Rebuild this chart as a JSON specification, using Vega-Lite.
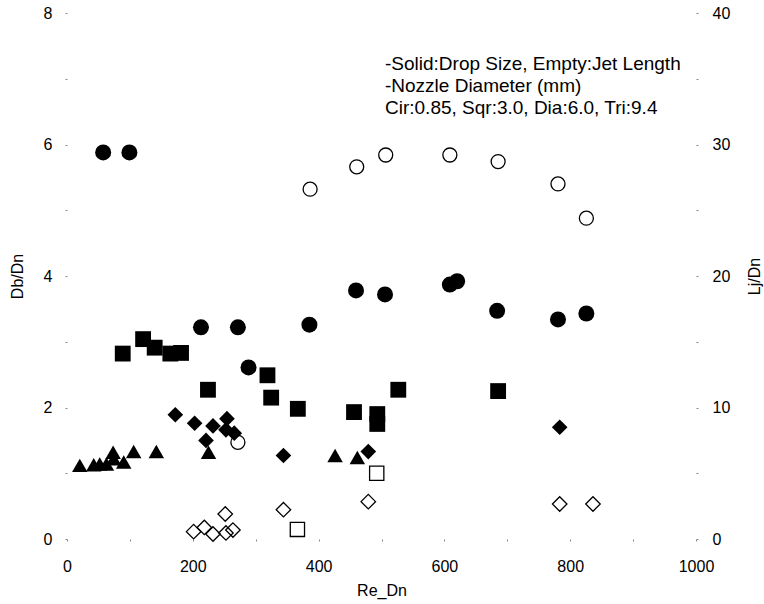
{
  "$schema": "https://vega.github.io/schema/vega-lite/v6.json",
  "width": 629,
  "height": 526,
  "autosize": "none",
  "padding": {"left": 67, "top": 13, "right": 68, "bottom": 65},
  "background": "white",
  "config": {
    "view": {"stroke": null},
    "font": "Liberation Sans",
    "axis": {
      "domain": false,
      "grid": false,
      "tickColor": "#888888",
      "tickSize": 2,
      "tickWidth": 1,
      "labelFont": "Liberation Sans",
      "labelFontSize": 16,
      "labelColor": "black",
      "labelFlush": false,
      "labelOverlap": false,
      "titleFont": "Liberation Sans",
      "titleFontSize": 16,
      "titleFontWeight": "normal",
      "titleColor": "black"
    }
  },
  "title": {
    "text": ["-Solid:Drop Size, Empty:Jet Length", "-Nozzle Diameter (mm)", "Cir:0.85, Sqr:3.0, Dia:6.0, Tri:9.4"],
    "anchor": "start",
    "frame": "group",
    "orient": "top",
    "font": "Liberation Sans",
    "fontSize": 19,
    "fontWeight": "normal",
    "color": "black",
    "lineHeight": 22,
    "offset": 0,
    "baseline": "top",
    "dx": 318,
    "dy": 113
  },
  "data": {
    "values": [
      {"re": 57.5, "val": 5.88, "nozzle": "Cir", "kind": "drop"},
      {"re": 99.2, "val": 5.88, "nozzle": "Cir", "kind": "drop"},
      {"re": 213, "val": 3.22, "nozzle": "Cir", "kind": "drop"},
      {"re": 271.7, "val": 3.22, "nozzle": "Cir", "kind": "drop"},
      {"re": 288.6, "val": 2.61, "nozzle": "Cir", "kind": "drop"},
      {"re": 385.4, "val": 3.26, "nozzle": "Cir", "kind": "drop"},
      {"re": 459.5, "val": 3.78, "nozzle": "Cir", "kind": "drop"},
      {"re": 505.6, "val": 3.72, "nozzle": "Cir", "kind": "drop"},
      {"re": 608.7, "val": 3.87, "nozzle": "Cir", "kind": "drop"},
      {"re": 620.3, "val": 3.92, "nozzle": "Cir", "kind": "drop"},
      {"re": 683.8, "val": 3.47, "nozzle": "Cir", "kind": "drop"},
      {"re": 780.6, "val": 3.34, "nozzle": "Cir", "kind": "drop"},
      {"re": 825.7, "val": 3.43, "nozzle": "Cir", "kind": "drop"},
      {"re": 88.6, "val": 2.82, "nozzle": "Sqr", "kind": "drop"},
      {"re": 121, "val": 3.04, "nozzle": "Sqr", "kind": "drop"},
      {"re": 139.4, "val": 2.91, "nozzle": "Sqr", "kind": "drop"},
      {"re": 164.3, "val": 2.82, "nozzle": "Sqr", "kind": "drop"},
      {"re": 181.3, "val": 2.83, "nozzle": "Sqr", "kind": "drop"},
      {"re": 224.1, "val": 2.27, "nozzle": "Sqr", "kind": "drop"},
      {"re": 318.7, "val": 2.49, "nozzle": "Sqr", "kind": "drop"},
      {"re": 324.6, "val": 2.15, "nozzle": "Sqr", "kind": "drop"},
      {"re": 367, "val": 1.98, "nozzle": "Sqr", "kind": "drop"},
      {"re": 456.3, "val": 1.93, "nozzle": "Sqr", "kind": "drop"},
      {"re": 493.3, "val": 1.9, "nozzle": "Sqr", "kind": "drop"},
      {"re": 493.3, "val": 1.75, "nozzle": "Sqr", "kind": "drop"},
      {"re": 526.7, "val": 2.27, "nozzle": "Sqr", "kind": "drop"},
      {"re": 685.4, "val": 2.25, "nozzle": "Sqr", "kind": "drop"},
      {"re": 172.2, "val": 1.89, "nozzle": "Dia", "kind": "drop"},
      {"re": 202.9, "val": 1.76, "nozzle": "Dia", "kind": "drop"},
      {"re": 232.1, "val": 1.72, "nozzle": "Dia", "kind": "drop"},
      {"re": 254.3, "val": 1.83, "nozzle": "Dia", "kind": "drop"},
      {"re": 252.7, "val": 1.66, "nozzle": "Dia", "kind": "drop"},
      {"re": 265.9, "val": 1.61, "nozzle": "Dia", "kind": "drop"},
      {"re": 221, "val": 1.5, "nozzle": "Dia", "kind": "drop"},
      {"re": 344.1, "val": 1.27, "nozzle": "Dia", "kind": "drop"},
      {"re": 479, "val": 1.33, "nozzle": "Dia", "kind": "drop"},
      {"re": 783.3, "val": 1.7, "nozzle": "Dia", "kind": "drop"},
      {"re": 20.3, "val": 1.12, "nozzle": "Tri", "kind": "drop"},
      {"re": 42.5, "val": 1.13, "nozzle": "Tri", "kind": "drop"},
      {"re": 52, "val": 1.14, "nozzle": "Tri", "kind": "drop"},
      {"re": 62.7, "val": 1.14, "nozzle": "Tri", "kind": "drop"},
      {"re": 73.3, "val": 1.32, "nozzle": "Tri", "kind": "drop"},
      {"re": 74.3, "val": 1.22, "nozzle": "Tri", "kind": "drop"},
      {"re": 90.2, "val": 1.17, "nozzle": "Tri", "kind": "drop"},
      {"re": 106, "val": 1.33, "nozzle": "Tri", "kind": "drop"},
      {"re": 142, "val": 1.33, "nozzle": "Tri", "kind": "drop"},
      {"re": 225, "val": 1.32, "nozzle": "Tri", "kind": "drop"},
      {"re": 426.2, "val": 1.27, "nozzle": "Tri", "kind": "drop"},
      {"re": 461.6, "val": 1.24, "nozzle": "Tri", "kind": "drop"},
      {"re": 271.7, "val": 7.35, "nozzle": "Cir", "kind": "jet"},
      {"re": 386.5, "val": 26.6, "nozzle": "Cir", "kind": "jet"},
      {"re": 460.6, "val": 28.3, "nozzle": "Cir", "kind": "jet"},
      {"re": 506.7, "val": 29.2, "nozzle": "Cir", "kind": "jet"},
      {"re": 608.7, "val": 29.2, "nozzle": "Cir", "kind": "jet"},
      {"re": 685.4, "val": 28.7, "nozzle": "Cir", "kind": "jet"},
      {"re": 780.6, "val": 27.0, "nozzle": "Cir", "kind": "jet"},
      {"re": 825.7, "val": 24.4, "nozzle": "Cir", "kind": "jet"},
      {"re": 366.3, "val": 0.73, "nozzle": "Sqr", "kind": "jet"},
      {"re": 492.4, "val": 5.0, "nozzle": "Sqr", "kind": "jet"},
      {"re": 201.3, "val": 0.56, "nozzle": "Dia", "kind": "jet"},
      {"re": 218.3, "val": 0.88, "nozzle": "Dia", "kind": "jet"},
      {"re": 232.1, "val": 0.38, "nozzle": "Dia", "kind": "jet"},
      {"re": 252.7, "val": 0.46, "nozzle": "Dia", "kind": "jet"},
      {"re": 263.8, "val": 0.68, "nozzle": "Dia", "kind": "jet"},
      {"re": 251.6, "val": 1.9, "nozzle": "Dia", "kind": "jet"},
      {"re": 344.1, "val": 2.23, "nozzle": "Dia", "kind": "jet"},
      {"re": 479, "val": 2.84, "nozzle": "Dia", "kind": "jet"},
      {"re": 783.3, "val": 2.66, "nozzle": "Dia", "kind": "jet"},
      {"re": 836.2, "val": 2.66, "nozzle": "Dia", "kind": "jet"}
    ]
  },
  "encoding": {
    "x": {
      "field": "re",
      "type": "quantitative",
      "scale": {"domain": [0, 1000]},
      "axis": {
        "title": "Re_Dn",
        "format": "d",
        "values": [0, 100, 200, 300, 400, 500, 600, 700, 800, 900, 1000],
        "labelExpr": "datum.value % 200 === 0 ? datum.label : ''",
        "labelPadding": 17,
        "titlePadding": 8
      }
    },
    "shape": {
      "field": "nozzle",
      "type": "nominal",
      "scale": {"domain": ["Cir", "Sqr", "Dia", "Tri"], "range": ["circle", "square", "diamond", "triangle-up"]},
      "legend": null
    }
  },
  "layer": [
    {
      "transform": [{"filter": "datum.kind === 'drop'"}],
      "mark": {"type": "point", "filled": true, "color": "black", "opacity": 1},
      "encoding": {
        "y": {
          "field": "val",
          "type": "quantitative",
          "scale": {"domain": [0, 8]},
          "axis": {
            "title": "Db/Dn",
            "values": [0, 1, 2, 3, 4, 5, 6, 7, 8],
            "labelExpr": "datum.value % 2 === 0 ? datum.label : ''",
            "labelPadding": 13,
            "titlePadding": 18
          }
        },
        "size": {
          "field": "nozzle",
          "type": "nominal",
          "scale": {"domain": ["Cir", "Sqr", "Dia", "Tri"], "range": [256, 240, 225, 225]},
          "legend": null
        }
      }
    },
    {
      "transform": [{"filter": "datum.kind === 'jet'"}],
      "mark": {"type": "point", "filled": false, "color": "black", "strokeWidth": 1.3, "opacity": 1},
      "encoding": {
        "y": {
          "field": "val",
          "type": "quantitative",
          "scale": {"domain": [0, 40]},
          "axis": {
            "orient": "right",
            "title": "Lj/Dn",
            "titleAngle": 270,
            "values": [0, 5, 10, 15, 20, 25, 30, 35, 40],
            "labelExpr": "datum.value % 10 === 0 ? datum.label : ''",
            "labelPadding": 14,
            "titlePadding": 33
          }
        },
        "size": {
          "field": "nozzle",
          "type": "nominal",
          "scale": {"domain": ["Cir", "Sqr", "Dia"], "range": [196, 210, 190]},
          "legend": null
        }
      }
    }
  ],
  "resolve": {"scale": {"y": "independent", "size": "independent"}}
}
